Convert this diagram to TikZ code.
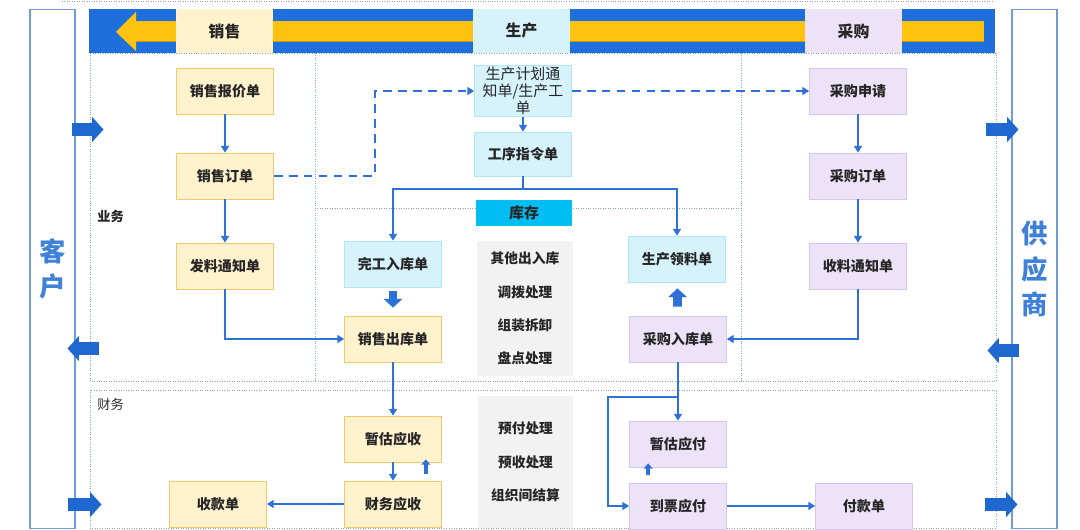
\documentclass[tikz,border=0pt]{standalone}
\usepackage{fontspec}
\setmainfont{Noto Sans CJK SC}
\usetikzlibrary{arrows.meta,calc}
\definecolor{salefill}{HTML}{FFF2CC}
\definecolor{saleline}{HTML}{F2C96E}
\definecolor{prodfill}{HTML}{D6F3FC}
\definecolor{prodline}{HTML}{B2E4F5}
\definecolor{buyfill}{HTML}{EDE3F9}
\definecolor{buyline}{HTML}{D8C5EF}
\definecolor{flowblue}{HTML}{2E72D8}
\definecolor{sideblue}{HTML}{1F68D0}
\definecolor{barblue}{HTML}{1E6FDC}
\definecolor{stripe}{HTML}{FFC20E}
\definecolor{stripedark}{HTML}{C99A1A}
\definecolor{stockfill}{HTML}{00BEF2}
\definecolor{listgray}{HTML}{F2F2F2}
\definecolor{regionline}{HTML}{8AA3C2}
\definecolor{panelline}{HTML}{6D9DDB}
\definecolor{custtext}{HTML}{3F80D8}

\begin{document}
\begin{tikzpicture}[x=0.02cm,y=-0.02cm,
  box/.style={minimum width=1.94cm,minimum height=0.92cm,inner sep=1pt,text=black!85,font=\bfseries\fontsize{8}{9.6}\selectfont},
  salebox/.style={box,draw=saleline,fill=salefill},
  prodbox/.style={box,draw=prodline,fill=prodfill},
  buybox/.style={box,draw=buyline,fill=buyfill},
  toplab/.style={minimum width=1.94cm,minimum height=0.89cm,inner sep=0pt,text=black!85,font=\bfseries\fontsize{9}{10}\selectfont},
  listbox/.style={fill=listgray,minimum width=1.92cm,inner sep=0pt,align=center,text=black!85,font=\bfseries\fontsize{7.8}{19}\selectfont},
  region/.style={draw=regionline,densely dotted,line width=0.4pt},
  flow/.style={draw=flowblue,line width=1.2pt,-{Triangle[width=4.4pt,length=3.8pt]}},
  dflow/.style={flow,dash pattern=on 5pt off 3.5pt},
  fat/.style={draw=flowblue,line width=5pt,-{Triangle[width=10.5pt,length=5pt]}},
  smallfat/.style={draw=flowblue,line width=2.2pt,-{Triangle[width=5pt,length=3pt]}},
  side/.style={draw=sideblue,line width=7pt,-{Triangle[width=14pt,length=6.5pt]}},
  panel/.style={draw=panelline,line width=0.6pt,minimum width=0.9cm,minimum height=10.4cm,inner sep=0pt,align=center,text=custtext,font=\bfseries\fontsize{15}{20}\selectfont},
  sectlab/.style={anchor=west,inner sep=0pt,text=black!85,font=\fontsize{7.5}{9}\selectfont}]
\useasboundingbox (0,0) rectangle (1080,530);

% regions
\draw[region] (62,1) -- (992,1);
\draw[region] (90,53) rectangle (996,381);
\draw[region] (315,53) -- (315,381);
\draw[region] (741,53) -- (741,381);
\draw[region] (315,208) -- (741,208);
\draw[region] (90,390) rectangle (996,528);
\node[sectlab,font=\bfseries\fontsize{7.5}{9}\selectfont] (biz) at (97,216) {业务};
\node[sectlab] (fin) at (97,404) {财务};

% customer and supplier
\node[panel] (cust) at (52.5,269) {客\\户};
\node[panel] (supp) at (1034.5,269) {供\\应\\商};

% top bar
\fill[barblue] (89,9) rectangle (995,53);
\fill[stripedark] (136,22.5) rectangle (984,42.5);
\fill[stripe] (136,21) rectangle (984,41);
\fill[stripe] (116,32) -- (136,12) -- (136,51) -- cycle;
\node[toplab,fill=salefill] (tsale) at (224.5,31) {销售};
\node[toplab,fill=prodfill] (tprod) at (521.5,31) {生产};
\node[toplab,fill=buyfill] (tbuy) at (853.5,31) {采购};

% sales
\node[salebox] (quote) at (225,91) {销售报价单};
\node[salebox] (order) at (225,176) {销售订单};
\node[salebox] (issue) at (225,266) {发料通知单};
\node[salebox] (sout) at (393,339) {销售出库单};
\node[salebox] (estr) at (393,439) {暂估应收};
\node[salebox] (finr) at (393,504) {财务应收};
\node[salebox] (recv) at (218,504) {收款单};

% production and stock
\node[prodbox,font=\fontsize{8.5}{9.6}\selectfont,align=center] (plan) at (523,91) {生产计划通\\知单/生产工\\单};
\node[prodbox,minimum height=0.88cm] (proc) at (523,154) {工序指令单};
\node[prodbox] (done) at (393,264) {完工入库单};
\node[prodbox] (pick) at (677,259) {生产领料单};
\node[fill=stockfill,minimum width=1.92cm,minimum height=0.52cm,inner sep=0pt,text=black!85,font=\bfseries\fontsize{8.5}{10}\selectfont] (stock) at (524,213) {库存};
\node[listbox,minimum height=2.7cm] (stocklist) at (525,308.5) {其他出入库\\调拨处理\\组装拆卸\\盘点处理};
\node[listbox,minimum height=2.64cm] (finlist) at (525.5,462) {预付处理\\预收处理\\组织间结算};

% purchase
\node[buybox] (preq) at (858,91) {采购申请};
\node[buybox] (pord) at (858,176) {采购订单};
\node[buybox] (rnote) at (858,266) {收料通知单};
\node[buybox] (pin) at (678,339) {采购入库单};
\node[buybox] (estp) at (678,444) {暂估应付};
\node[buybox] (inv) at (678,506) {到票应付};
\node[buybox] (pay) at (864,506) {付款单};

% flows
\draw[flow] (quote) -- (order);
\draw[flow] (order) -- (issue);
\draw[flow] (issue.south) |- (sout.west);
\draw[dflow] (order.east) -- ++(101,0) |- (plan.west);
\draw[dflow] (plan) -- (preq);
\draw[flow] (plan) -- (proc);
\draw[flow] (proc.south) -- ++(0,13) -| (done.north);
\draw[flow] (proc.south) -- ++(0,13) -| (pick.north);
\draw[fat,shorten <=0.08cm,shorten >=0.16cm] (done) -- (sout);
\draw[fat,shorten <=0.18cm,shorten >=0.12cm] (pin) -- (pick);
\draw[flow] (sout) -- (estr);
\draw[flow] (estr) -- (finr);
\draw[flow] (finr) -- (recv);
\draw[smallfat] ($(estr.south east)+(-16,12)$) -- ($(estr.south east)+(-16,-3)$);
\draw[flow] (preq) -- (pord);
\draw[flow] (pord) -- (rnote);
\draw[flow] (rnote.south) |- (pin.east);
\draw[flow] (pin) -- (estp);
\path (pin.south) ++(0,35) coordinate (split);
\draw[flow] (split) -- ++(-70,0) |- (inv.west);
\draw[flow] (inv) -- (pay);
\draw[smallfat] ($(estp.south west)+(19,8)$) -- ($(estp.south west)+(19,-4)$);

% side arrows
\draw[side] ($(cust.north east)+(-4,121)$) -- ($(cust.north east)+(28,121)$);
\draw[side] ($(cust.north east)+(23,340)$) -- ($(cust.north east)+(-8,340)$);
\draw[side] ($(cust.north east)+(-8,496)$) -- ($(cust.north east)+(26,496)$);
\draw[side] ($(supp.north west)+(-25,121)$) -- ($(supp.north west)+(7,121)$);
\draw[side] ($(supp.north west)+(8,342)$) -- ($(supp.north west)+(-24,342)$);
\draw[side] ($(supp.north west)+(-26,496)$) -- ($(supp.north west)+(6,496)$);
\end{tikzpicture}
\end{document}
